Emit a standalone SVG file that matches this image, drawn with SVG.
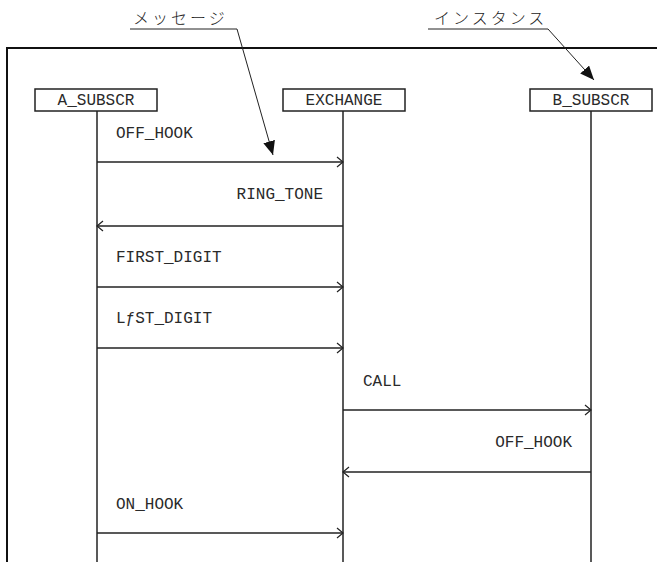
<svg xmlns="http://www.w3.org/2000/svg" width="657" height="562" viewBox="0 0 657 562">
<defs>
<style>
.t{font-family:"Liberation Mono","DejaVu Sans Mono",monospace;font-size:16px;fill:#2a2a2a}
.j{font-family:"Noto Sans CJK JP",sans-serif;font-size:16px;letter-spacing:3px;fill:#222;font-weight:300}
.box{fill:#fff;stroke:#222;stroke-width:1.5}
.life{stroke:#222;stroke-width:1.5;fill:none}
.msg{stroke:#222;stroke-width:1.5;fill:none;marker-end:url(#open)}
.ann{stroke:#222;stroke-width:1;fill:none}
</style>
<marker id="open" viewBox="0 0 8 12" refX="7" refY="6" markerWidth="8" markerHeight="12" markerUnits="userSpaceOnUse" orient="auto">
<path d="M1,1 L7,6 L1,11" fill="none" stroke="#222" stroke-width="1.2"/>
</marker>
<marker id="solid" viewBox="0 0 14 12" refX="14" refY="6" markerWidth="14" markerHeight="12" markerUnits="userSpaceOnUse" orient="auto">
<path d="M0,0 L14,6 L0,12 Z" fill="#111"/>
</marker>
</defs>
<rect width="657" height="562" fill="#fff"/>
<path d="M7,562 V48 H657" fill="none" stroke="#111" stroke-width="2"/>
<g id="lifelines">
<line class="life" x1="97" y1="111" x2="97" y2="562"/>
<line class="life" x1="343" y1="111" x2="343" y2="562"/>
<line class="life" x1="591" y1="111" x2="591" y2="562"/>
</g>
<g id="A_SUBSCR"><rect class="box" x="35" y="89" width="122" height="22"/><text class="t" x="96" y="105" text-anchor="middle">A_SUBSCR</text></g>
<g id="EXCHANGE"><rect class="box" x="283" y="89" width="122" height="22"/><text class="t" x="344" y="105" text-anchor="middle">EXCHANGE</text></g>
<g id="B_SUBSCR"><rect class="box" x="530" y="89" width="122" height="22"/><text class="t" x="591" y="105" text-anchor="middle">B_SUBSCR</text></g>
<g id="connectors">
<line class="msg" x1="97" y1="162" x2="343" y2="162"/>
<line class="msg" x1="343" y1="226" x2="97" y2="226"/>
<line class="msg" x1="97" y1="287" x2="343" y2="287"/>
<line class="msg" x1="97" y1="348" x2="343" y2="348"/>
<line class="msg" x1="343" y1="410" x2="591" y2="410"/>
<line class="msg" x1="591" y1="472" x2="343" y2="472"/>
<line class="msg" x1="97" y1="533" x2="343" y2="533"/>
</g>
<g id="labels">
<text class="t" x="116" y="138">OFF_HOOK</text>
<text class="t" x="323" y="199" text-anchor="end">RING_TONE</text>
<text class="t" x="116" y="262">FIRST_DIGIT</text>
<text class="t" x="116" y="323">LƒST_DIGIT</text>
<text class="t" x="363" y="386">CALL</text>
<text class="t" x="572" y="447" text-anchor="end">OFF_HOOK</text>
<text class="t" x="116" y="509">ON_HOOK</text>
</g>
<g id="annotation-message">
<text class="j" x="133" y="24">メッセージ</text>
<path class="ann" d="M130,29 H237 L273,155" marker-end="url(#solid)"/>
</g>
<g id="annotation-instance">
<text class="j" x="434" y="24">インスタンス</text>
<path class="ann" d="M428,29 H548 L594,80" marker-end="url(#solid)"/>
</g>
</svg>
